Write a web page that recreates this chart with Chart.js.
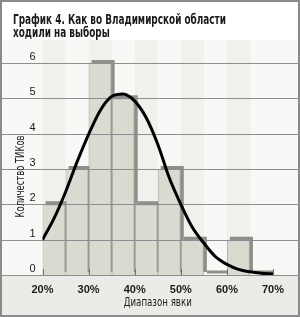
<!DOCTYPE html>
<html><head><meta charset="utf-8">
<script src="https://cdn.jsdelivr.net/npm/chart.js@4/dist/chart.umd.min.js"></script>
<style>html,body{margin:0;padding:0;background:#fff;}#wrap{width:300px;height:317px;}</style>
</head><body><div id="wrap"><canvas id="c" width="300" height="317"></canvas></div>
<script>
// ---- data ----
const titleLines = ['График 4. Как во Владимирской области', 'ходили на выборы'];
const yTitle = 'Количество ТИКов';
const xTitle = 'Диапазон явки';
const binStarts = [20, 25, 30, 35, 40, 45, 50, 55, 60, 65];   // явка, % (5% bins)
const counts    = [2, 3, 6, 5, 2, 3, 1, 0, 1, 0];             // число ТИКов
const curveX = [20, 22.5, 25, 27.5, 30, 32.5, 35, 37.5, 40, 42.5, 45, 47.5, 50, 52.5, 55, 57.5, 60, 62.5, 65, 67.5, 70];
const curveY = [1.0, 1.6, 2.35, 3.2, 3.98, 4.65, 5.05, 5.12, 4.92, 4.45, 3.7, 2.75, 2.0, 1.35, 0.9, 0.52, 0.3, 0.16, 0.09, 0.05, 0.03];
const xTicks = [20, 30, 40, 50, 60, 70];
const yTicks = [0, 1, 2, 3, 4, 5, 6];
const binWidth = 5;

const COND = "'DejaVu Sans Condensed', 'Liberation Sans', sans-serif";
const TICKFONT = "'Liberation Sans', Arial, sans-serif";
const xMin = 20, xMax = 70, yMax = 6.65;
const SHIFT_X = 0.65, SHIFT_Y = 0.085; // shadow offset in data units (about 3px)

const barData = binStarts.map((s, i) => ({x: s + binWidth / 2, y: counts[i]}));
const curveData = curveX.map((x, i) => ({x: x, y: curveY[i]}));

function fitText(ctx, text, x, y, targetW, align) {
  const w = ctx.measureText(text).width;
  const k = targetW / w;
  ctx.save();
  ctx.translate(x, y);
  ctx.scale(k, 1);
  ctx.textAlign = align;
  ctx.fillText(text, 0, 0);
  ctx.restore();
  return k;
}

const decor = {
  id: 'decor',
  beforeDraw(chart) {
    const {ctx, chartArea: ca, scales: {x}} = chart;
    ctx.save();
    ctx.fillStyle = '#ffffff';
    ctx.fillRect(0, 0, chart.width, chart.height);
    ctx.fillStyle = '#f8f8f6';
    ctx.fillRect(0, ca.top, chart.width, ca.bottom - ca.top);
    ctx.fillStyle = '#f0f0ec';
    binStarts.forEach((s, i) => {
      if (i % 2 === 0) {
        const a = x.getPixelForValue(s), b = x.getPixelForValue(s + binWidth);
        ctx.fillRect(a, ca.top, b - a, ca.bottom - ca.top);
      }
    });
    ctx.fillStyle = '#ebebe7';
    ctx.fillRect(0, ca.bottom, chart.width, chart.height - ca.bottom);
    ctx.restore();
  },
  afterDatasetDraw(chart, args) {
    if (args.index !== 1) return;
    const {ctx, chartArea: ca, scales: {x, y}} = chart;
    ctx.save();
    ctx.strokeStyle = '#8e8e8e';
    ctx.lineWidth = 1;
    yTicks.forEach(v => {
      const py = Math.round(y.getPixelForValue(v)) + 0.5;
      ctx.beginPath(); ctx.moveTo(0, py); ctx.lineTo(chart.width, py); ctx.stroke();
    });
    ctx.strokeStyle = '#6e6e6e';
    xTicks.forEach(v => {
      const px = Math.round(x.getPixelForValue(v)) + 0.5;
      ctx.beginPath(); ctx.moveTo(px, ca.bottom); ctx.lineTo(px, ca.bottom - 6); ctx.stroke();
    });
    ctx.restore();
  },
  afterDraw(chart) {
    const {ctx, chartArea: ca} = chart;
    ctx.save();
    ctx.fillStyle = '#1a1a1a';
    ctx.textBaseline = 'alphabetic';
    ctx.font = 'bold 14px ' + COND;
    const k = ctx.measureText(titleLines[0]).width;
    const scale = 213 / k;
    [titleLines[0], titleLines[1]].forEach((t, i) => {
      ctx.save();
      ctx.translate(13, i === 0 ? 24 : 37);
      ctx.scale(scale, 1);
      ctx.textAlign = 'left';
      ctx.fillText(t, 0, 0);
      ctx.restore();
    });
    // x axis title
    ctx.font = '12px ' + COND;
    ctx.fillStyle = '#222';
    ctx.textBaseline = 'middle';
    fitText(ctx, xTitle, (ca.left + ca.right) / 2, 303, 68, 'center');
    // y axis title
    ctx.save();
    ctx.translate(21, 176.5);
    ctx.rotate(-Math.PI / 2);
    fitText(ctx, yTitle, 0, 0, 82, 'center');
    ctx.restore();
    ctx.restore();
    // frame
    ctx.save();
    ctx.strokeStyle = '#8a8a8a';
    ctx.lineWidth = 2;
    ctx.strokeRect(1, 1, chart.width - 2, chart.height - 2);
    ctx.restore();
  }
};

new Chart(document.getElementById('c'), {
  data: {
    datasets: [
      { // shadow (drawn first)
        type: 'bar', data: barData, xAxisID: 'xs', yAxisID: 'ys', order: 2,
        backgroundColor: '#8e8f89', borderWidth: 0, barPercentage: 1, categoryPercentage: 1,
        minBarLength: 3, grouped: false, inflateAmount: 0
      },
      { // bar face
        type: 'bar', data: barData, xAxisID: 'x', yAxisID: 'y', order: 1,
        backgroundColor: '#d9dbd0', borderColor: '#a4a69e', borderWidth: 1,
        barPercentage: 1, categoryPercentage: 1, grouped: false, inflateAmount: 0
      },
      { // fitted curve
        type: 'line', data: curveData, xAxisID: 'x', yAxisID: 'y', order: 0,
        borderColor: '#000', borderWidth: 3, pointRadius: 0,
        cubicInterpolationMode: 'monotone', fill: false
      }
    ]
  },
  options: {
    responsive: false, animation: false,
    layout: {padding: {top: 40, right: 27, bottom: 0, left: 0}},
    plugins: {legend: {display: false}, tooltip: {enabled: false}, title: {display: false}},
    scales: {
      x: {
        type: 'linear', min: xMin, max: xMax, position: 'bottom', offset: false,
        afterBuildTicks: s => { s.ticks = xTicks.map(v => ({value: v})); },
        afterFit: s => { s.height = 42; },
        grid: {display: false, drawTicks: false, offset: false}, border: {display: false},
        ticks: {callback: v => v + '%', font: {family: TICKFONT, size: 11, weight: 'bold'}, color: '#1a1a1a', padding: 8, maxRotation: 0}
      },
      y: {
        type: 'linear', min: 0, max: yMax, position: 'left',
        afterBuildTicks: s => { s.ticks = yTicks.map(v => ({value: v})); },
        afterFit: s => { s.width = 42.5; },
        grid: {display: false, drawTicks: false}, border: {display: false},
        ticks: {font: {family: TICKFONT, size: 11}, color: '#1a1a1a', padding: 7, labelOffset: -6}
      },
      xs: {type: 'linear', min: xMin - SHIFT_X, max: xMax - SHIFT_X, display: false, offset: false},
      ys: {type: 'linear', min: -SHIFT_Y, max: yMax - SHIFT_Y, display: false}
    }
  },
  plugins: [decor]
});
</script></body></html>
